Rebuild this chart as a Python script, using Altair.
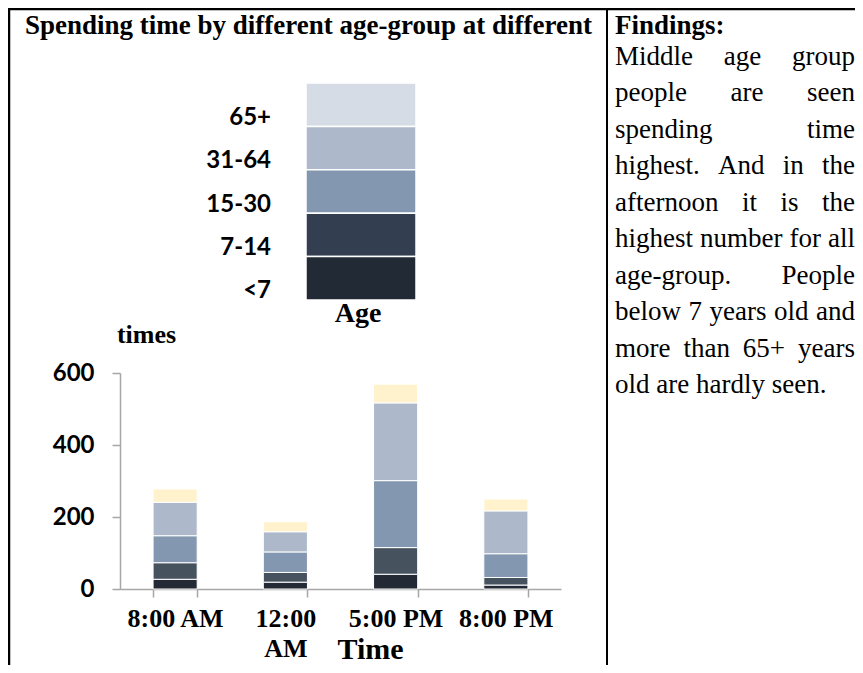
import altair as alt
import pandas as pd

# ---------------- data ----------------
times = ["8:00 AM", "12:00 AM", "5:00 PM", "8:00 PM"]
ages = ["<7", "7-14", "15-30", "31-64", "65+"]
v_lt7 = [27, 19, 41, 11]
v_7_14 = [46, 27, 74, 21]
v_15_30 = [75, 57, 186, 66]
v_31_64 = [93, 56, 216, 119]
v_65 = [37, 28, 52, 33]
bar_colors = ["#232A35", "#47525F", "#8497B0", "#ADB9CA", "#FFF2CC"]

legend_ages = ["65+", "31-64", "15-30", "7-14", "<7"]
legend_colors = ["#D6DCE5", "#ADB9CA", "#8497B0", "#333F50", "#222A35"]
y_ticks = [0, 200, 400, 600]

title_text = "Spending time by different age-group at different"
legend_title = "Age"
y_title = "times"
x_title = "Time"
findings_title = "Findings:"
findings_lines = [
    "Middle age group",
    "people are seen",
    "spending time",
    "highest. And in the",
    "afternoon it is the",
    "highest number for all",
    "age-group. People",
    "below 7 years old and",
    "more than 65+ years",
    "old are hardly seen.",
]

# ---------------- tables ----------------
series = [v_lt7, v_7_14, v_15_30, v_31_64, v_65]
bar_rows = []
for i, (age, vals) in enumerate(zip(ages, series)):
    for t, v in zip(times, vals):
        bar_rows.append({"time": t, "age": age, "value": v, "idx": i})
bars_df = pd.DataFrame(bar_rows)

legend_df = pd.DataFrame({"age": legend_ages, "color": legend_colors})

# justified text layout (Times / Liberation Serif advance widths per 1000 em)
TNR = {
    "a": 444, "b": 500, "c": 444, "d": 500, "e": 444, "f": 333, "g": 500, "h": 500,
    "i": 278, "j": 278, "k": 500, "l": 278, "m": 778, "n": 500, "o": 500, "p": 500,
    "q": 500, "r": 333, "s": 389, "t": 278, "u": 500, "v": 500, "w": 722, "x": 500,
    "y": 500, "z": 444, "A": 722, "M": 889, "P": 556, " ": 250, ".": 250, "-": 333,
    "+": 564,
}
BODY_FS = 27
COL_LEFT = 495
COL_W = 240


def text_width(s):
    return sum(TNR.get(c, 500) for c in s) * BODY_FS / 1000.0


word_rows = []
for li, line in enumerate(findings_lines):
    words = line.split(" ")
    widths = [text_width(w) for w in words]
    if li < len(findings_lines) - 1 and len(words) > 1:
        gap = (COL_W - sum(widths)) / (len(words) - 1)
    else:
        gap = text_width(" ")
    x = 0.0
    for w, wd in zip(words, widths):
        word_rows.append({"word": w, "line": li, "px": COL_LEFT + x})
        x += wd + gap
words_df = pd.DataFrame(word_rows)

one = pd.DataFrame({"t": [0]})

SERIF = "Liberation Serif"
SANS = "Lato"

# ---------------- bars ----------------
bars = alt.Chart(bars_df).mark_bar(stroke="#FFFFFF", strokeWidth=1).encode(
    x=alt.X(
        "time:N",
        sort=times,
        scale=alt.Scale(paddingInner=0.6, paddingOuter=0.3),
        axis=alt.Axis(
            title=x_title,
            titleFont=SERIF,
            titleFontSize=30,
            titleFontWeight="bold",
            titleColor="#000000",
            titleX=250,
            titleY=69,
            titleAlign="center",
            titleBaseline="alphabetic",
            labelFont=SERIF,
            labelFontSize=26,
            labelFontWeight="bold",
            labelColor="#000000",
            labelAngle=0,
            labelBaseline="top",
            labelPadding=8,
            labelLineHeight=30,
            labelExpr="length(datum.label) > 7 ? split(datum.label, ' ') : datum.label",
            tickBand="extent",
            tickSize=8,
            tickColor="#A6A6A6",
            tickWidth=1.5,
            domainColor="#A6A6A6",
            domainWidth=1.5,
        ),
    ),
    y=alt.Y(
        "value:Q",
        stack="zero",
        scale=alt.Scale(domain=[0, 600], nice=False),
        axis=alt.Axis(
            values=y_ticks,
            grid=False,
            title=y_title,
            titleFont=SERIF,
            titleFontSize=26,
            titleFontWeight="bold",
            titleColor="#000000",
            titleAngle=0,
            titleX=26,
            titleY=-31,
            titleAlign="center",
            titleBaseline="alphabetic",
            labelFont=SANS,
            labelFontSize=24,
            labelFontWeight="bold",
            labelColor="#000000",
            labelPadding=18,
            tickSize=8,
            tickColor="#A6A6A6",
            tickWidth=1.5,
            domainColor="#A6A6A6",
            domainWidth=1.5,
        ),
    ),
    color=alt.Color(
        "age:N",
        scale=alt.Scale(domain=ages, range=bar_colors),
        legend=None,
    ),
    order=alt.Order("idx:Q", sort="ascending"),
)

# ---------------- custom legend ----------------
leg_scale = alt.Scale(domain=legend_ages, range=[-290, -73], paddingInner=0, paddingOuter=0)

legend_rects = alt.Chart(legend_df).mark_rect(stroke="#FFFFFF", strokeWidth=1.5).encode(
    y=alt.Y("age:N", sort=legend_ages, scale=leg_scale, axis=None),
    x=alt.value(186),
    x2=alt.value(296),
    fill=alt.Fill("color:N", scale=None),
)

legend_labels = alt.Chart(legend_df).mark_text(
    align="right", baseline="middle", dy=13, font=SANS, fontSize=24,
    fontWeight="bold", color="#000000",
).encode(
    y=alt.Y("age:N", sort=legend_ages, scale=leg_scale, axis=None),
    x=alt.value(151),
    text="age:N",
)

legend_name = alt.Chart(pd.DataFrame({"t": [legend_title]})).mark_text(
    align="center", baseline="alphabetic", font=SERIF, fontSize=28,
    fontWeight="bold", color="#000000",
).encode(x=alt.value(238), y=alt.value(-51), text="t:N")

# ---------------- titles & findings ----------------
title = alt.Chart(pd.DataFrame({"t": [title_text]})).mark_text(
    align="left", baseline="alphabetic", font=SERIF, fontSize=27,
    fontWeight="bold", color="#000000",
).encode(x=alt.value(-95), y=alt.value(-339), text="t:N")

find_head = alt.Chart(pd.DataFrame({"t": [findings_title]})).mark_text(
    align="left", baseline="alphabetic", font=SERIF, fontSize=27,
    fontWeight="bold", color="#000000",
).encode(x=alt.value(COL_LEFT), y=alt.value(-339), text="t:N")

words = alt.Chart(words_df).mark_text(
    align="left", baseline="alphabetic", font=SERIF, fontSize=BODY_FS,
    color="#000000",
).encode(
    x=alt.X("px:Q", scale=None, axis=None),
    y=alt.Y("line:Q", scale=alt.Scale(domain=[0, 9], range=[-308, 20]), axis=None),
    text="word:N",
)

# ---------------- table borders ----------------
border_top = alt.Chart(one).mark_rule(color="#000000", strokeWidth=2.5).encode(
    x=alt.value(-112), x2=alt.value(735), y=alt.value(-364)
)
border_left = alt.Chart(one).mark_rule(color="#000000", strokeWidth=2.5).encode(
    x=alt.value(-111), y=alt.value(-365), y2=alt.value(292)
)
border_mid = alt.Chart(one).mark_rule(color="#000000", strokeWidth=2).encode(
    x=alt.value(487), y=alt.value(-365), y2=alt.value(292)
)

chart = (
    alt.layer(
        bars, legend_rects, legend_labels, legend_name, title, find_head, words,
        border_top, border_left, border_mid,
    )
    .resolve_scale(x="independent", y="independent")
    .properties(
        width=441,
        height=216,
        padding={"left": 112, "top": 365, "right": 294, "bottom": 76},
        autosize="none",
        background="#FFFFFF",
    )
    .configure_view(stroke=None)
)

chart.save("out.html", embed_options={"renderer": "svg", "actions": False})
